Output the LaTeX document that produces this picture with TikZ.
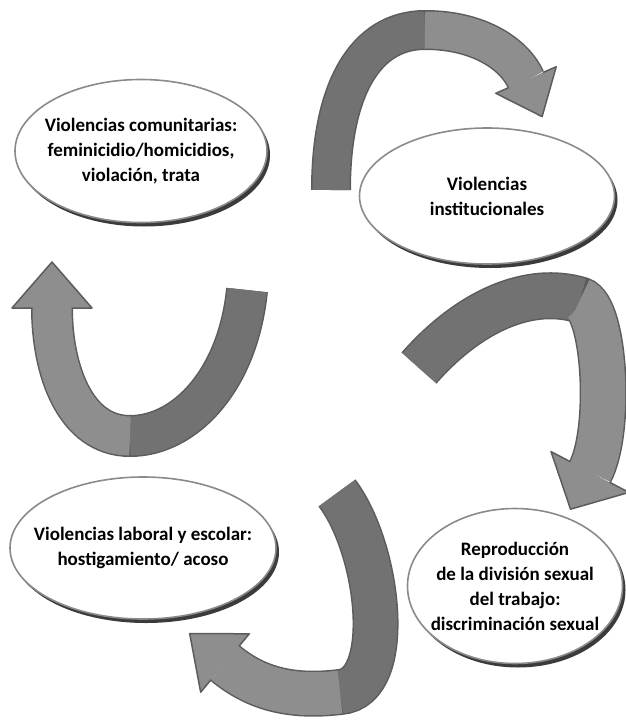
\documentclass[tikz,border=0pt]{standalone}
\usepackage{fontspec}
\setmainfont{Carlito}
\usepackage{tikz}
\usetikzlibrary{positioning,calc,shapes.geometric,shadows}
\definecolor{grisclaro}{HTML}{8E8E8E}
\definecolor{grisoscuro}{HTML}{727272}
\definecolor{gristrazo}{HTML}{5C5C5C}
\definecolor{grisglobo}{HTML}{8A8A8A}
\tikzset{globo/.style={ellipse, draw=grisglobo, line width=1.6pt, fill=white, inner xsep=-15pt, inner ysep=0pt,
    align=center, font=\bfseries\fontsize{19}{25}\selectfont,
    drop shadow={shadow xshift=3pt, shadow yshift=-4pt, fill=black!90, opacity=.85}}}
\tikzset{cinta/.style={line width=#1, line cap=butt}}
\tikzset{trazo/.style={draw=gristrazo, line width=1.5pt, line join=round}}
% base, punta, medio ancho de la cinta, medio ancho de la punta
\newcommand{\puntaflecha}[4]{%
  \fill[grisclaro] ($(#1)!#3!90:(#2)$) -- ($(#1)!#4!90:(#2)$) -- (#2) -- ($(#1)!#4!-90:(#2)$) -- ($(#1)!#3!-90:(#2)$) -- cycle;
  \draw[trazo] ($(#1)!#3!90:(#2)$) -- ($(#1)!#4!90:(#2)$) -- (#2) -- ($(#1)!#4!-90:(#2)$) -- ($(#1)!#3!-90:(#2)$);}

\begin{document}
\begin{tikzpicture}[x=1pt, y=-1pt]
\useasboundingbox (0,0) rectangle (625,725);

% flecha de arriba
\coordinate (a0) at (331,190);
\coordinate (am) at (425,30);
\coordinate (ab) at (526,80);
\coordinate (ac) at (515,55);
\coordinate (ap) at ($(ab)!-40pt!(ac)$);
\draw[cinta=40pt, gristrazo] (a0) .. controls (331,90) and (365,30) .. (am) .. controls (480,30) and (ac) .. (ab);
\draw[cinta=37pt, grisoscuro] (a0) .. controls (331,90) and (365,30) .. (am);
\draw[cinta=37pt, grisclaro] (am) .. controls (480,30) and (ac) .. (ab);
\puntaflecha{ab}{ap}{18.5pt}{33pt}

% flecha de la derecha
\coordinate (b0) at (419,368);
\coordinate (bm) at (580,300);
\coordinate (bb) at (590,472);
\coordinate (bc) at (612,430);
\coordinate (bp) at ($(bb)!-42pt!(bc)$);
\draw[cinta=47pt, gristrazo] (b0) .. controls (470,310) and (530,285) .. (bm) .. controls (605,308) and (bc) .. (bb);
\draw[cinta=44pt, grisoscuro] (b0) .. controls (470,310) and (530,285) .. (bm);
\draw[cinta=44pt, grisclaro] (bm) .. controls (605,308) and (bc) .. (bb);
\puntaflecha{bb}{bp}{22pt}{44pt}

% flecha de abajo
\coordinate (c0) at (337,493);
\coordinate (cm) at (340,692);
\coordinate (cb) at (225,663);
\coordinate (cc) at (255,688);
\coordinate (cp) at ($(cb)!-46pt!(cc)$);
\draw[cinta=46pt, gristrazo] (c0) .. controls (380,550) and (395,688) .. (cm) .. controls (290,698) and (cc) .. (cb);
\draw[cinta=43pt, grisoscuro] (c0) .. controls (380,550) and (395,688) .. (cm);
\draw[cinta=43pt, grisclaro] (cm) .. controls (290,698) and (cc) .. (cb);
\puntaflecha{cb}{cp}{21.5pt}{38pt}

% flecha de la izquierda
\coordinate (d0) at (247,290);
\coordinate (dm) at (130,436);
\coordinate (db) at (52,308);
\coordinate (dc) at (52,370);
\coordinate (dp) at ($(db)!-46pt!(dc)$);
\draw[cinta=42pt, gristrazo] (d0) .. controls (238,380) and (185,436) .. (dm) .. controls (75,436) and (dc) .. (db);
\draw[cinta=39pt, grisoscuro] (d0) .. controls (238,380) and (185,436) .. (dm);
\draw[cinta=39pt, grisclaro] (dm) .. controls (75,436) and (dc) .. (db);
\puntaflecha{db}{dp}{19.5pt}{40pt}

\node[globo, minimum width=252pt, minimum height=143pt] (comunitarias) at (141,151)
  {Violencias comunitarias:\\ feminicidio/homicidios,\\ violación, trata};
\node[globo, minimum width=255pt, minimum height=136pt] (institucionales) at (487,196)
  {Violencias\\ institucionales};
\node[globo, minimum width=257pt, minimum height=142pt] (laboral) at (143,548)
  {Violencias laboral y escolar:\\ hostigamiento/ acoso};
\node[globo, minimum width=215pt, minimum height=155pt] (division) at (515,586)
  {Reproducción\\ de la división sexual\\ del trabajo:\\ discriminación sexual};
\end{tikzpicture}
\end{document}
